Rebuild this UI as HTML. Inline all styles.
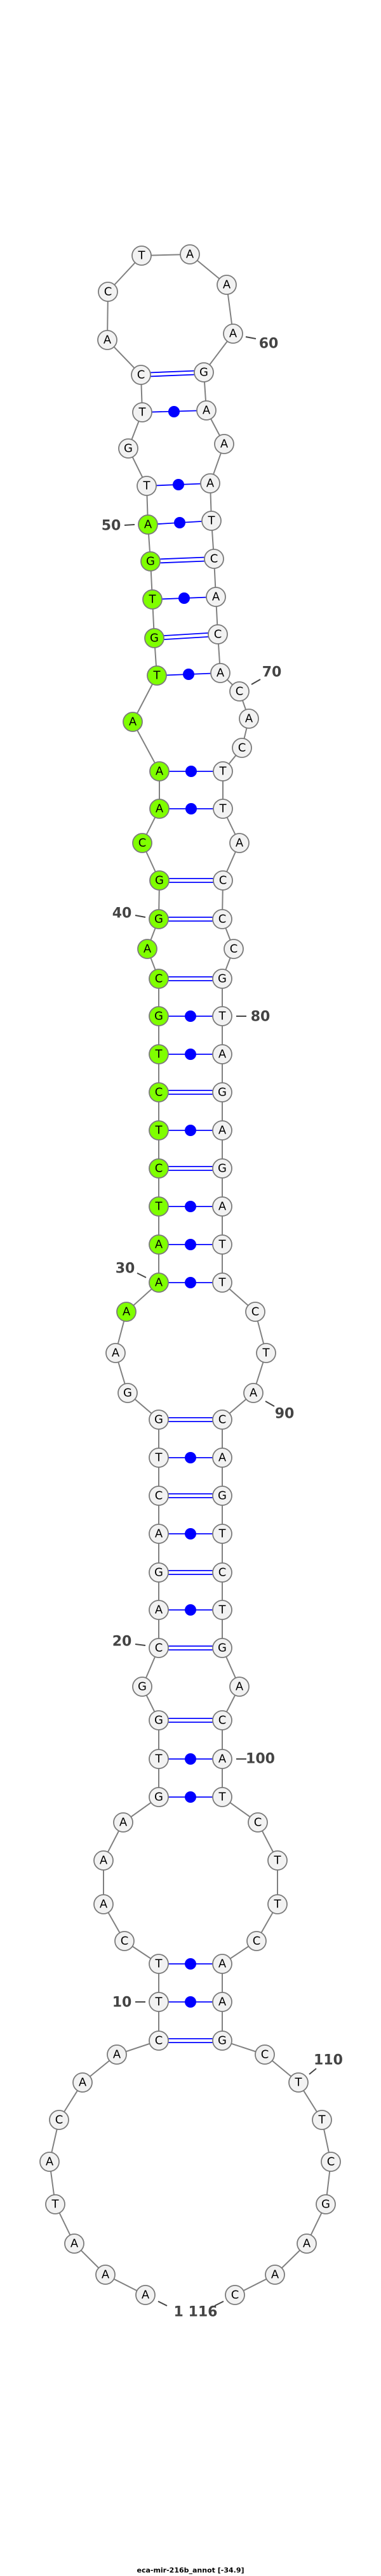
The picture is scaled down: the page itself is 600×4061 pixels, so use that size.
<!DOCTYPE html>
<html><head><meta charset="utf-8"><style>
html,body{margin:0;padding:0;background:#fff;}
svg{display:block;}
.n{fill:#f2f2f2;stroke:#7a7a7a;stroke-width:1.8;}
.g{fill:#7fff00;stroke:#7a7a7a;stroke-width:1.8;}
.t{font-family:"DejaVu Sans","Liberation Sans",sans-serif;font-size:18px;fill:#000;text-anchor:middle;dominant-baseline:central;}
.l{font-family:"DejaVu Sans","Liberation Sans",sans-serif;font-size:22px;font-weight:bold;fill:#444;text-anchor:middle;dominant-baseline:central;}
.k{stroke:#444;stroke-width:2;}
.p{stroke:#0000ff;stroke-width:1.8;}
.d{fill:#0000ff;}
</style></head><body>
<svg width="600" height="4061" viewBox="0 0 600 4061" xmlns="http://www.w3.org/2000/svg">
<polyline fill="none" stroke="#808080" stroke-width="2" points="229,3618 166,3586 117,3537 87,3475 78,3408 93,3342 130,3283 184,3239 250,3217 250,3156 250,3096 196,3060 163,3002 163,2933 194,2873 250,2833 250,2773 250,2712 224,2659 250,2598 250,2538 250,2479 250,2418 250,2358 250,2298 250,2238 201,2196 182,2133 199,2068 250,2022 250,1962 250,1902 250,1842 250,1782 250,1722 250,1662 250,1602 250,1543 232,1496 250,1449 251,1388 224,1329 251,1275 251,1216 209,1138 247,1065 243,1006 240,945 237,885 233,827 231,766 202,707 224,650 222,591 169,536 170,460 223,403 299,401 357,449 367,526 321,587 325,647 353,700 331,762 333,821 337,881 340,941 343,1000 347,1061 377,1090 392,1133 381,1179 351,1216 351,1275 377,1329 351,1388 350,1449 368,1496 350,1543 350,1602 350,1662 350,1722 350,1782 350,1842 350,1902 350,1962 350,2022 402,2068 419,2133 399,2196 350,2238 350,2298 350,2358 350,2418 350,2479 350,2538 350,2598 377,2659 350,2712 350,2773 350,2833 406,2873 437,2933 437,3002 404,3060 350,3096 350,3156 350,3217 417,3239 470,3283 507,3342 521,3408 513,3475 483,3537 433,3586 370,3618"/>
<!-- double pairs (GC) -->
<g class="p">
<line x1="222" y1="588" x2="321" y2="584"/><line x1="222" y1="594" x2="321" y2="590"/>
<line x1="237" y1="882" x2="337" y2="878"/><line x1="237" y1="888" x2="337" y2="884"/>
<line x1="243" y1="1003" x2="343" y2="997"/><line x1="243" y1="1009" x2="343" y2="1003"/>
<line x1="251" y1="1385" x2="351" y2="1385"/><line x1="251" y1="1391" x2="351" y2="1391"/>
<line x1="250" y1="1446" x2="350" y2="1446"/><line x1="250" y1="1452" x2="350" y2="1452"/>
<line x1="250" y1="1540" x2="350" y2="1540"/><line x1="250" y1="1546" x2="350" y2="1546"/>
<line x1="250" y1="1719" x2="350" y2="1719"/><line x1="250" y1="1725" x2="350" y2="1725"/>
<line x1="250" y1="1839" x2="350" y2="1839"/><line x1="250" y1="1845" x2="350" y2="1845"/>
<line x1="250" y1="2235" x2="350" y2="2235"/><line x1="250" y1="2241" x2="350" y2="2241"/>
<line x1="250" y1="2355" x2="350" y2="2355"/><line x1="250" y1="2361" x2="350" y2="2361"/>
<line x1="250" y1="2476" x2="350" y2="2476"/><line x1="250" y1="2482" x2="350" y2="2482"/>
<line x1="250" y1="2595" x2="350" y2="2595"/><line x1="250" y1="2601" x2="350" y2="2601"/>
<line x1="250" y1="2709" x2="350" y2="2709"/><line x1="250" y1="2715" x2="350" y2="2715"/>
<line x1="250" y1="3214" x2="350" y2="3214"/><line x1="250" y1="3220" x2="350" y2="3220"/>
<!-- single pairs -->
<line x1="224" y1="650" x2="325" y2="647"/>
<line x1="231" y1="766" x2="331" y2="762"/>
<line x1="233" y1="827" x2="333" y2="821"/>
<line x1="240" y1="945" x2="340" y2="941"/>
<line x1="247" y1="1065" x2="347" y2="1061"/>
<line x1="251" y1="1216" x2="351" y2="1216"/>
<line x1="251" y1="1275" x2="351" y2="1275"/>
<line x1="250" y1="1602" x2="350" y2="1602"/>
<line x1="250" y1="1662" x2="350" y2="1662"/>
<line x1="250" y1="1782" x2="350" y2="1782"/>
<line x1="250" y1="1902" x2="350" y2="1902"/>
<line x1="250" y1="1962" x2="350" y2="1962"/>
<line x1="250" y1="2022" x2="350" y2="2022"/>
<line x1="250" y1="2298" x2="350" y2="2298"/>
<line x1="250" y1="2418" x2="350" y2="2418"/>
<line x1="250" y1="2538" x2="350" y2="2538"/>
<line x1="250" y1="2773" x2="350" y2="2773"/>
<line x1="250" y1="2833" x2="350" y2="2833"/>
<line x1="250" y1="3096" x2="350" y2="3096"/>
<line x1="250" y1="3156" x2="350" y2="3156"/>
</g>
<g class="d">
<circle cx="274" cy="649" r="9"/><circle cx="281" cy="764" r="9"/><circle cx="283" cy="824" r="9"/>
<circle cx="290" cy="943" r="9"/><circle cx="297" cy="1063" r="9"/><circle cx="301" cy="1216" r="9"/>
<circle cx="301" cy="1275" r="9"/><circle cx="300" cy="1602" r="9"/><circle cx="300" cy="1662" r="9"/>
<circle cx="300" cy="1782" r="9"/><circle cx="300" cy="1902" r="9"/><circle cx="300" cy="1962" r="9"/>
<circle cx="300" cy="2022" r="9"/><circle cx="300" cy="2298" r="9"/><circle cx="300" cy="2418" r="9"/>
<circle cx="300" cy="2538" r="9"/><circle cx="300" cy="2773" r="9"/><circle cx="300" cy="2833" r="9"/>
<circle cx="300" cy="3096" r="9"/><circle cx="300" cy="3156" r="9"/>
</g>
<!-- label ticks -->
<g class="k">
<line x1="387" y1="531" x2="403" y2="534"/>
<line x1="196" y1="828" x2="212" y2="827"/>
<line x1="396" y1="1079" x2="410" y2="1071"/>
<line x1="213" y1="1443" x2="229" y2="1446"/>
<line x1="372" y1="1602" x2="388" y2="1602"/>
<line x1="216" y1="2007" x2="230" y2="2014"/>
<line x1="418" y1="2209" x2="432" y2="2217"/>
<line x1="213" y1="2592" x2="229" y2="2594"/>
<line x1="372" y1="2773" x2="388" y2="2773"/>
<line x1="213" y1="3156" x2="229" y2="3156"/>
<line x1="487" y1="3270" x2="498" y2="3261"/>
<line x1="249" y1="3628" x2="263" y2="3635"/>
<line x1="338" y1="3635" x2="352" y2="3628"/>
</g>
<g class="l">
<text x="423" y="542">60</text>
<text x="175" y="829">50</text>
<text x="428" y="1060">70</text>
<text x="192" y="1440">40</text>
<text x="410" y="1603">80</text>
<text x="197" y="2000">30</text>
<text x="448" y="2229">90</text>
<text x="192" y="2588">20</text>
<text x="410" y="2773">100</text>
<text x="192" y="3157">10</text>
<text x="517" y="3248">110</text>
<text x="308" y="3645">1 116</text>
</g>
<!-- nodes -->
<g>
<circle class="n" cx="229" cy="3618" r="15"/><text class="t" x="229" y="3618">A</text>
<circle class="n" cx="166" cy="3586" r="15"/><text class="t" x="166" y="3586">A</text>
<circle class="n" cx="117" cy="3537" r="15"/><text class="t" x="117" y="3537">A</text>
<circle class="n" cx="87" cy="3475" r="15"/><text class="t" x="87" y="3475">T</text>
<circle class="n" cx="78" cy="3408" r="15"/><text class="t" x="78" y="3408">A</text>
<circle class="n" cx="93" cy="3342" r="15"/><text class="t" x="93" y="3342">C</text>
<circle class="n" cx="130" cy="3283" r="15"/><text class="t" x="130" y="3283">A</text>
<circle class="n" cx="184" cy="3239" r="15"/><text class="t" x="184" y="3239">A</text>
<circle class="n" cx="250" cy="3217" r="15"/><text class="t" x="250" y="3217">C</text>
<circle class="n" cx="250" cy="3156" r="15"/><text class="t" x="250" y="3156">T</text>
<circle class="n" cx="250" cy="3096" r="15"/><text class="t" x="250" y="3096">T</text>
<circle class="n" cx="196" cy="3060" r="15"/><text class="t" x="196" y="3060">C</text>
<circle class="n" cx="163" cy="3002" r="15"/><text class="t" x="163" y="3002">A</text>
<circle class="n" cx="163" cy="2933" r="15"/><text class="t" x="163" y="2933">A</text>
<circle class="n" cx="194" cy="2873" r="15"/><text class="t" x="194" y="2873">A</text>
<circle class="n" cx="250" cy="2833" r="15"/><text class="t" x="250" y="2833">G</text>
<circle class="n" cx="250" cy="2773" r="15"/><text class="t" x="250" y="2773">T</text>
<circle class="n" cx="250" cy="2712" r="15"/><text class="t" x="250" y="2712">G</text>
<circle class="n" cx="224" cy="2659" r="15"/><text class="t" x="224" y="2659">G</text>
<circle class="n" cx="250" cy="2598" r="15"/><text class="t" x="250" y="2598">C</text>
<circle class="n" cx="250" cy="2538" r="15"/><text class="t" x="250" y="2538">A</text>
<circle class="n" cx="250" cy="2479" r="15"/><text class="t" x="250" y="2479">G</text>
<circle class="n" cx="250" cy="2418" r="15"/><text class="t" x="250" y="2418">A</text>
<circle class="n" cx="250" cy="2358" r="15"/><text class="t" x="250" y="2358">C</text>
<circle class="n" cx="250" cy="2298" r="15"/><text class="t" x="250" y="2298">T</text>
<circle class="n" cx="250" cy="2238" r="15"/><text class="t" x="250" y="2238">G</text>
<circle class="n" cx="201" cy="2196" r="15"/><text class="t" x="201" y="2196">G</text>
<circle class="n" cx="182" cy="2133" r="15"/><text class="t" x="182" y="2133">A</text>
<circle class="g" cx="199" cy="2068" r="15"/><text class="t" x="199" y="2068">A</text>
<circle class="g" cx="250" cy="2022" r="15"/><text class="t" x="250" y="2022">A</text>
<circle class="g" cx="250" cy="1962" r="15"/><text class="t" x="250" y="1962">A</text>
<circle class="g" cx="250" cy="1902" r="15"/><text class="t" x="250" y="1902">T</text>
<circle class="g" cx="250" cy="1842" r="15"/><text class="t" x="250" y="1842">C</text>
<circle class="g" cx="250" cy="1782" r="15"/><text class="t" x="250" y="1782">T</text>
<circle class="g" cx="250" cy="1722" r="15"/><text class="t" x="250" y="1722">C</text>
<circle class="g" cx="250" cy="1662" r="15"/><text class="t" x="250" y="1662">T</text>
<circle class="g" cx="250" cy="1602" r="15"/><text class="t" x="250" y="1602">G</text>
<circle class="g" cx="250" cy="1543" r="15"/><text class="t" x="250" y="1543">C</text>
<circle class="g" cx="232" cy="1496" r="15"/><text class="t" x="232" y="1496">A</text>
<circle class="g" cx="250" cy="1449" r="15"/><text class="t" x="250" y="1449">G</text>
<circle class="g" cx="251" cy="1388" r="15"/><text class="t" x="251" y="1388">G</text>
<circle class="g" cx="224" cy="1329" r="15"/><text class="t" x="224" y="1329">C</text>
<circle class="g" cx="251" cy="1275" r="15"/><text class="t" x="251" y="1275">A</text>
<circle class="g" cx="251" cy="1216" r="15"/><text class="t" x="251" y="1216">A</text>
<circle class="g" cx="209" cy="1138" r="15"/><text class="t" x="209" y="1138">A</text>
<circle class="g" cx="247" cy="1065" r="15"/><text class="t" x="247" y="1065">T</text>
<circle class="g" cx="243" cy="1006" r="15"/><text class="t" x="243" y="1006">G</text>
<circle class="g" cx="240" cy="945" r="15"/><text class="t" x="240" y="945">T</text>
<circle class="g" cx="237" cy="885" r="15"/><text class="t" x="237" y="885">G</text>
<circle class="g" cx="233" cy="827" r="15"/><text class="t" x="233" y="827">A</text>
<circle class="n" cx="231" cy="766" r="15"/><text class="t" x="231" y="766">T</text>
<circle class="n" cx="202" cy="707" r="15"/><text class="t" x="202" y="707">G</text>
<circle class="n" cx="224" cy="650" r="15"/><text class="t" x="224" y="650">T</text>
<circle class="n" cx="222" cy="591" r="15"/><text class="t" x="222" y="591">C</text>
<circle class="n" cx="169" cy="536" r="15"/><text class="t" x="169" y="536">A</text>
<circle class="n" cx="170" cy="460" r="15"/><text class="t" x="170" y="460">C</text>
<circle class="n" cx="223" cy="403" r="15"/><text class="t" x="223" y="403">T</text>
<circle class="n" cx="299" cy="401" r="15"/><text class="t" x="299" y="401">A</text>
<circle class="n" cx="357" cy="449" r="15"/><text class="t" x="357" y="449">A</text>
<circle class="n" cx="367" cy="526" r="15"/><text class="t" x="367" y="526">A</text>
<circle class="n" cx="321" cy="587" r="15"/><text class="t" x="321" y="587">G</text>
<circle class="n" cx="325" cy="647" r="15"/><text class="t" x="325" y="647">A</text>
<circle class="n" cx="353" cy="700" r="15"/><text class="t" x="353" y="700">A</text>
<circle class="n" cx="331" cy="762" r="15"/><text class="t" x="331" y="762">A</text>
<circle class="n" cx="333" cy="821" r="15"/><text class="t" x="333" y="821">T</text>
<circle class="n" cx="337" cy="881" r="15"/><text class="t" x="337" y="881">C</text>
<circle class="n" cx="340" cy="941" r="15"/><text class="t" x="340" y="941">A</text>
<circle class="n" cx="343" cy="1000" r="15"/><text class="t" x="343" y="1000">C</text>
<circle class="n" cx="347" cy="1061" r="15"/><text class="t" x="347" y="1061">A</text>
<circle class="n" cx="377" cy="1090" r="15"/><text class="t" x="377" y="1090">C</text>
<circle class="n" cx="392" cy="1133" r="15"/><text class="t" x="392" y="1133">A</text>
<circle class="n" cx="381" cy="1179" r="15"/><text class="t" x="381" y="1179">C</text>
<circle class="n" cx="351" cy="1216" r="15"/><text class="t" x="351" y="1216">T</text>
<circle class="n" cx="351" cy="1275" r="15"/><text class="t" x="351" y="1275">T</text>
<circle class="n" cx="377" cy="1329" r="15"/><text class="t" x="377" y="1329">A</text>
<circle class="n" cx="351" cy="1388" r="15"/><text class="t" x="351" y="1388">C</text>
<circle class="n" cx="350" cy="1449" r="15"/><text class="t" x="350" y="1449">C</text>
<circle class="n" cx="368" cy="1496" r="15"/><text class="t" x="368" y="1496">C</text>
<circle class="n" cx="350" cy="1543" r="15"/><text class="t" x="350" y="1543">G</text>
<circle class="n" cx="350" cy="1602" r="15"/><text class="t" x="350" y="1602">T</text>
<circle class="n" cx="350" cy="1662" r="15"/><text class="t" x="350" y="1662">A</text>
<circle class="n" cx="350" cy="1722" r="15"/><text class="t" x="350" y="1722">G</text>
<circle class="n" cx="350" cy="1782" r="15"/><text class="t" x="350" y="1782">A</text>
<circle class="n" cx="350" cy="1842" r="15"/><text class="t" x="350" y="1842">G</text>
<circle class="n" cx="350" cy="1902" r="15"/><text class="t" x="350" y="1902">A</text>
<circle class="n" cx="350" cy="1962" r="15"/><text class="t" x="350" y="1962">T</text>
<circle class="n" cx="350" cy="2022" r="15"/><text class="t" x="350" y="2022">T</text>
<circle class="n" cx="402" cy="2068" r="15"/><text class="t" x="402" y="2068">C</text>
<circle class="n" cx="419" cy="2133" r="15"/><text class="t" x="419" y="2133">T</text>
<circle class="n" cx="399" cy="2196" r="15"/><text class="t" x="399" y="2196">A</text>
<circle class="n" cx="350" cy="2238" r="15"/><text class="t" x="350" y="2238">C</text>
<circle class="n" cx="350" cy="2298" r="15"/><text class="t" x="350" y="2298">A</text>
<circle class="n" cx="350" cy="2358" r="15"/><text class="t" x="350" y="2358">G</text>
<circle class="n" cx="350" cy="2418" r="15"/><text class="t" x="350" y="2418">T</text>
<circle class="n" cx="350" cy="2479" r="15"/><text class="t" x="350" y="2479">C</text>
<circle class="n" cx="350" cy="2538" r="15"/><text class="t" x="350" y="2538">T</text>
<circle class="n" cx="350" cy="2598" r="15"/><text class="t" x="350" y="2598">G</text>
<circle class="n" cx="377" cy="2659" r="15"/><text class="t" x="377" y="2659">A</text>
<circle class="n" cx="350" cy="2712" r="15"/><text class="t" x="350" y="2712">C</text>
<circle class="n" cx="350" cy="2773" r="15"/><text class="t" x="350" y="2773">A</text>
<circle class="n" cx="350" cy="2833" r="15"/><text class="t" x="350" y="2833">T</text>
<circle class="n" cx="406" cy="2873" r="15"/><text class="t" x="406" y="2873">C</text>
<circle class="n" cx="437" cy="2933" r="15"/><text class="t" x="437" y="2933">T</text>
<circle class="n" cx="437" cy="3002" r="15"/><text class="t" x="437" y="3002">T</text>
<circle class="n" cx="404" cy="3060" r="15"/><text class="t" x="404" y="3060">C</text>
<circle class="n" cx="350" cy="3096" r="15"/><text class="t" x="350" y="3096">A</text>
<circle class="n" cx="350" cy="3156" r="15"/><text class="t" x="350" y="3156">A</text>
<circle class="n" cx="350" cy="3217" r="15"/><text class="t" x="350" y="3217">G</text>
<circle class="n" cx="417" cy="3239" r="15"/><text class="t" x="417" y="3239">C</text>
<circle class="n" cx="470" cy="3283" r="15"/><text class="t" x="470" y="3283">T</text>
<circle class="n" cx="507" cy="3342" r="15"/><text class="t" x="507" y="3342">T</text>
<circle class="n" cx="521" cy="3408" r="15"/><text class="t" x="521" y="3408">C</text>
<circle class="n" cx="513" cy="3475" r="15"/><text class="t" x="513" y="3475">G</text>
<circle class="n" cx="483" cy="3537" r="15"/><text class="t" x="483" y="3537">A</text>
<circle class="n" cx="433" cy="3586" r="15"/><text class="t" x="433" y="3586">A</text>
<circle class="n" cx="370" cy="3618" r="15"/><text class="t" x="370" y="3618">C</text>
</g>
<text x="300" y="4052" text-anchor="middle" dominant-baseline="central" style="font-family:'DejaVu Sans','Liberation Sans',sans-serif;font-size:11px;font-weight:bold;fill:#000">eca-mir-216b_annot [-34.9]</text>
</svg>
</body></html>
